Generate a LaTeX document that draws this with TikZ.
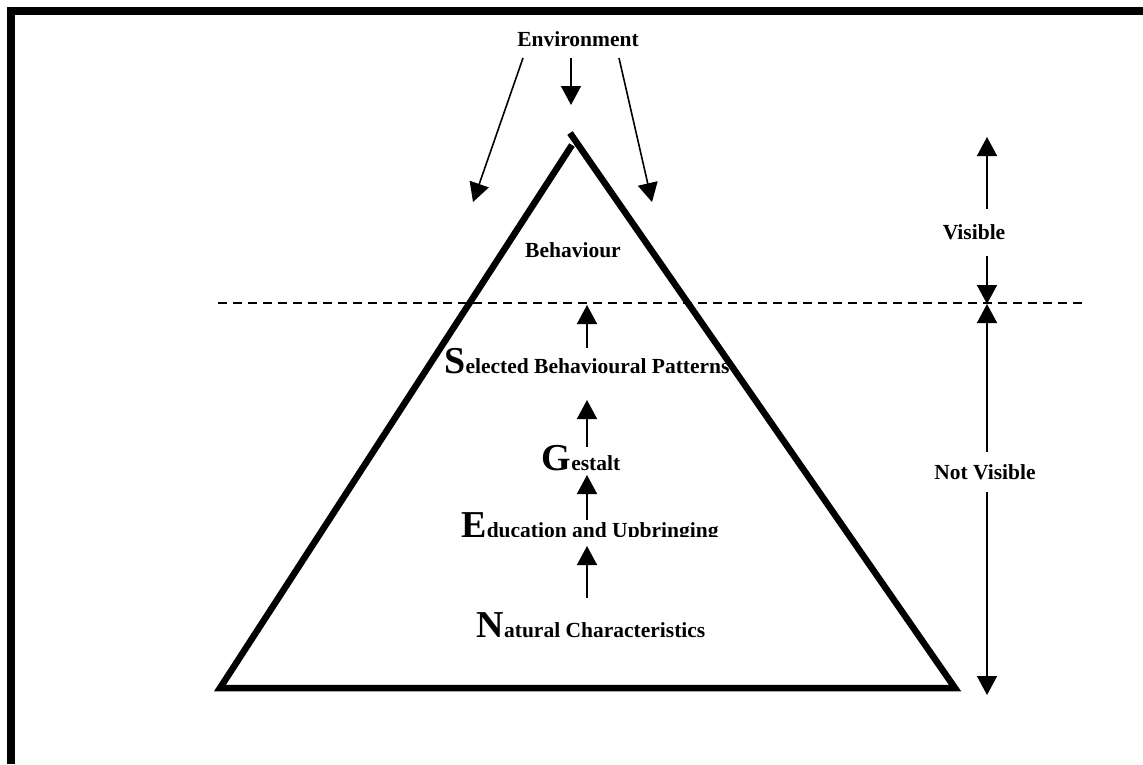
\documentclass[tikz,border=0pt]{standalone}
\usepackage{fontspec}
\setmainfont{Liberation Serif}
\usetikzlibrary{arrows.meta}
\newcommand{\BigInit}[1]{{\fontsize{38}{40}\selectfont #1}}
\tikzset{%
    frm/.style={line width = 8pt},
    tri/.style={line width = 6.5pt},
    dsh/.style={line width = 1.5pt, dash pattern=on 9pt off 6pt},
    seca/.style={line width = 1.6pt, -{Triangle[length=19pt, width=20pt]}},
    lbl/.style={inner sep=0pt, anchor=base, font=\fontsize{21.5}{24}\selectfont\bfseries},
}
\begin{document}
\begin{tikzpicture}[x=1pt, y=-1pt]
    \useasboundingbox (0,0) rectangle (1143,764);
    \draw [frm] (11,764) -- (11,11) -- (1143,11);
    % iceberg
    \draw [tri] (572,145) -- (220,688) -- (955,688) -- (570,133);
    \draw [dsh] (218,303) -- (1085,303);
    % environment
    \draw node[lbl] (env) at (578,46) {Environment};
    \coordinate (el0) at (523,58); \coordinate (el) at (473,202);
    \coordinate (em0) at (571,58); \coordinate (em) at (571,105);
    \coordinate (er0) at (619,58); \coordinate (er) at (652,202);
    \draw [seca] (el0) -- (el);
    \draw [seca] (em0) -- (em);
    \draw [seca] (er0) -- (er);
    % levels
    \draw node[lbl] (beh) at (573,257) {Behaviour};
    \draw node[lbl] (sel) at (587,373) {\BigInit{S}elected Behavioural Patterns};
    \draw node[lbl] (ges) at (581,470) {\BigInit{G}estalt};
    \begin{scope}
        \clip (0,0) rectangle (1143,536);
        \draw node[lbl] (edu) at (590,537) {\BigInit{E}ducation and Upbringing};
    \end{scope}
    \draw node[lbl] (nat) at (591,637) {\BigInit{N}atural Characteristics};
    \coordinate (s0) at (587,348); \coordinate (s1) at (587,305);
    \coordinate (g0) at (587,447); \coordinate (g1) at (587,400);
    \coordinate (e0) at (587,520); \coordinate (e1) at (587,475);
    \coordinate (n0) at (587,598); \coordinate (n1) at (587,546);
    \draw [seca] (s0) -- (s1);
    \draw [seca] (g0) -- (g1);
    \draw [seca] (e0) -- (e1);
    \draw [seca] (n0) -- (n1);
    % visible / not visible
    \draw node[lbl] (vis) at (974,239) {Visible};
    \draw node[lbl] (nvis) at (985,479) {Not Visible};
    \coordinate (vt) at (987,137); \coordinate (v0) at (987,209);
    \coordinate (v1) at (987,256); \coordinate (wl) at (987,304);
    \coordinate (n2) at (987,452); \coordinate (n3) at (987,492);
    \coordinate (nb) at (987,695);
    \draw [seca] (v0) -- (vt);
    \draw [seca] (v1) -- (wl);
    \draw [seca] (n2) -- (wl);
    \draw [seca] (n3) -- (nb);
\end{tikzpicture}
\end{document}
